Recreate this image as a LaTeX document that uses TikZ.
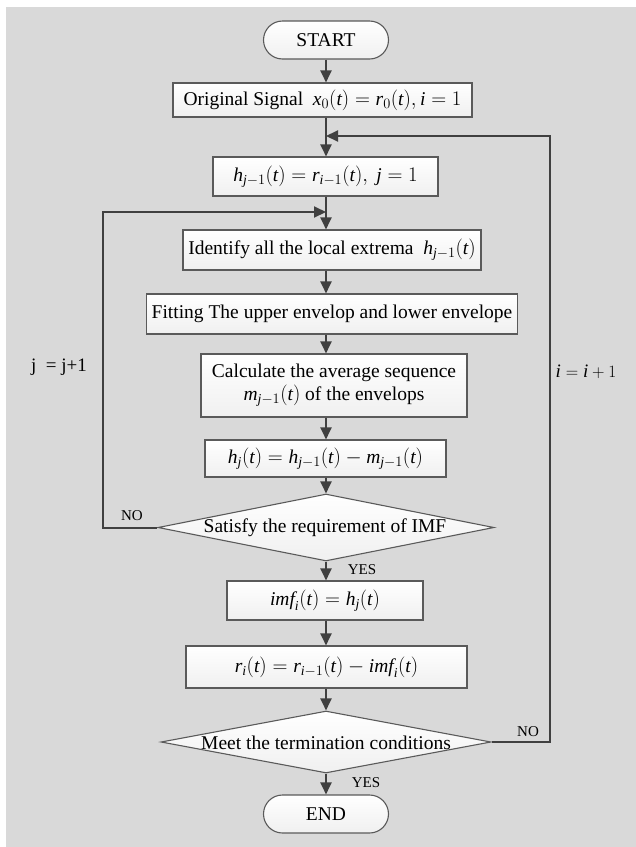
\documentclass[tikz,border=0pt]{standalone}
\usepackage{amsmath}
\usepackage{fontspec}
\setmainfont{Liberation Serif}
\usetikzlibrary{shapes.geometric,arrows.meta,calc}
\definecolor{bg}{HTML}{D9D9D9}
\definecolor{edgec}{HTML}{5A5A5A}
\definecolor{connc}{HTML}{404040}
\newcommand{\iv}[1]{\text{\itshape #1}}
\begin{document}
\begin{tikzpicture}[x=1pt,y=-1pt,
  box/.style={draw=edgec, line width=1.1pt, top color=white, bottom color=black!6,
    inner xsep=5pt, inner ysep=0pt, font=\fontsize{19.5}{23}\selectfont, align=center},
  term/.style={box, rounded corners=19pt, minimum width=125pt, minimum height=38pt},
  dia/.style={diamond, draw=edgec, line width=1.1pt, top color=white, bottom color=black!6, inner sep=0pt},
  txt/.style={inner sep=0pt, font=\fontsize{19.5}{23}\selectfont},
  lbl/.style={inner sep=0pt, font=\fontsize{15}{18}\selectfont},
  conn/.style={draw=connc, line width=2pt, -{Triangle[length=12pt,width=11pt]}},
]
\fill[white] (0,0) rectangle (636,847);
\fill[bg] (6,7) rectangle (636,847);
\useasboundingbox (0,0) rectangle (636,847);
\coordinate (sp) at (326,0);
\coordinate (lx) at (103,0);
\coordinate (rx) at (550,0);
\coordinate (jr) at (326,136);
\coordinate (jl) at (326,212);

\node[term] (start) at (326,40) {START};
\node[box, minimum width=299pt, minimum height=34pt] (orig) at (322.5,100)
  {Original Signal\ \ $\iv{x}_0(\iv{t}) = \iv{r}_0(\iv{t}), \iv{i}=1$};
\node[box, minimum width=225pt, minimum height=39pt] (hbox) at (325.5,176.5)
  {$\iv{h}_{\iv{j}-1}(\iv{t}) = \iv{r}_{\iv{i}-1}(\iv{t}),\ \iv{j}=1$};
\node[box, minimum width=298pt, minimum height=40pt] (ident) at (332,250)
  {Identify all the local extrema\ \ $\iv{h}_{\iv{j}-1}(\iv{t})$};
\node[box, minimum width=368pt, minimum height=40pt] (fit) at (332,314)
  {Fitting The upper envelop and lower envelope};
\node[box, minimum width=266pt, minimum height=63pt] (calc) at (334,385.5)
  {Calculate the average sequence\\ $\iv{m}_{\iv{j}-1}(\iv{t})$ of the envelops};
\node[box, minimum width=241pt, minimum height=37pt] (hj) at (325.5,458.5)
  {$\iv{h}_{\iv{j}}(\iv{t}) = \iv{h}_{\iv{j}-1}(\iv{t}) - \iv{m}_{\iv{j}-1}(\iv{t})$};
\node[dia, minimum width=336pt, minimum height=67pt] (d1) at (326,527.5) {};
\node[txt] (d1t) at (325,528) {Satisfy the requirement of IMF};
\node[box, minimum width=196pt, minimum height=39pt] (imf) at (325,600.5)
  {$\iv{imf}_{\iv{i}}(\iv{t}) = \iv{h}_{\iv{j}}(\iv{t})$};
\node[box, minimum width=281pt, minimum height=42pt] (ri) at (326.5,667)
  {$\iv{r}_{\iv{i}}(\iv{t}) = \iv{r}_{\iv{i}-1}(\iv{t}) - \iv{imf}_{\iv{i}}(\iv{t})$};
\node[dia, minimum width=330pt, minimum height=62pt] (d2) at (326,742) {};
\node[txt] (d2t) at (326,743) {Meet the termination conditions};
\node[term] (end) at (326,814) {END};

\draw[conn] (start.south -| sp) -- (orig.north -| sp);
\draw[conn] (orig.south -| sp) -- (hbox.north -| sp);
\draw[conn] (hbox.south -| sp) -- (ident.north -| sp);
\draw[conn] (ident.south -| sp) -- (fit.north -| sp);
\draw[conn] (fit.south -| sp) -- (calc.north -| sp);
\draw[conn] (calc.south -| sp) -- (hj.north -| sp);
\draw[conn] (hj.south -| sp) -- (d1.north);
\draw[conn] (d1.south) -- (imf.north -| sp);
\draw[conn] (imf.south -| sp) -- (ri.north -| sp);
\draw[conn] (ri.south -| sp) -- (d2.north);
\draw[conn] (d2.south) -- (end.north -| sp);

\draw[conn] (d1.west) -- (d1.west -| lx) |- (jl);
\draw[conn] (d2.east) -- (d2.east -| rx) |- (jr);

\node[lbl] (no1) at (132,516) {NO};
\node[lbl] (yes1) at (362,570) {YES};
\node[lbl] (no2) at (528,732) {NO};
\node[lbl] (yes2) at (366,783) {YES};
\node[txt, font=\fontsize{19}{22}\selectfont] (jinc) at (59,367) {j\ \ = j+1};
\node[txt, font=\fontsize{19}{22}\selectfont] (iinc) at (586,372) {$\iv{i}=\iv{i}+1$};
\end{tikzpicture}
\end{document}
